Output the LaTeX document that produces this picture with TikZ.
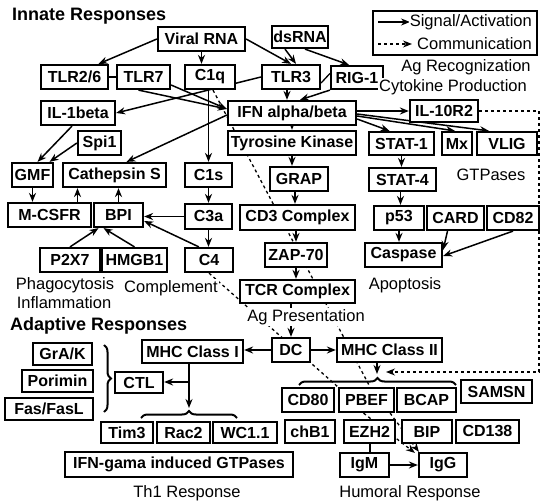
\documentclass[tikz,border=0pt]{standalone}
\usepackage{fontspec}
\setmainfont{Liberation Sans}
\usetikzlibrary{arrows.meta,backgrounds,decorations.pathreplacing,calc}
\tikzset{
  box/.style={draw, line width=2.2pt, fill=white, inner sep=0pt, font=\fontsize{16}{18}\selectfont\bfseries},
  arr/.style={line width=1.5pt, -{Stealth[length=9pt,width=7pt]}},
  dasharr/.style={line width=1.3pt, dash pattern=on 3pt off 3pt, -{Stealth[length=9pt,width=7pt]}},
  dline/.style={line width=1.3pt, dash pattern=on 3pt off 3pt},
  lbl/.style={font=\fontsize{16.5}{18}\selectfont, inner sep=1pt, fill=white},
  ttl/.style={font=\fontsize{18}{20}\selectfont\bfseries, anchor=west, inner sep=0pt},
  brc/.style={decorate, decoration={brace, amplitude=7pt}, line width=2pt},
}
\newcommand\bx[6]{\node[box,minimum width={(#4-#2)*1pt},minimum height={(#5-#3)*1pt}] (#1) at ({(#2+#4)/2},{(#3+#5)/2}) {#6};}
\begin{document}
\begin{tikzpicture}[x=1pt,y=-1pt]
\useasboundingbox (0,0) rectangle (544,503);
% titles
\node[ttl] (tin) at (12,16) {Innate Responses};
\node[ttl] (tad) at (10,326) {Adaptive Responses};
% legend
\node[draw, line width=2pt, minimum width=164pt, minimum height=44pt, inner sep=0pt] (leg) at (455,33) {};
\coordinate (lga) at (378,22); \coordinate (lgb) at (410,22);
\coordinate (lgc) at (378,44); \coordinate (lgd) at (412,44);
\node[lbl, anchor=east] (ls) at (533,22) {Signal/Activation};
\node[lbl, anchor=east] (lc) at (533,44) {Communication};
% innate boxes
\bx{viral}{158}{27}{245}{51}{Viral RNA}
\bx{dsrna}{272}{26}{328}{48}{dsRNA}
\bx{tlr26}{41}{65}{108}{89}{TLR2/6}
\bx{tlr7}{117}{65}{170}{89}{TLR7}
\bx{c1q}{185}{65}{235}{89}{C1q}
\bx{tlr3}{262}{65}{320}{89}{TLR3}
\bx{rig}{331}{66}{383}{89}{RIG-1}
\bx{il1b}{41}{101}{115}{125}{IL-1beta}
\bx{ifn}{228}{101}{356}{125}{IFN alpha/beta}
\bx{il10}{410}{100}{478}{122}{IL-10R2}
\bx{spi1}{78}{131}{121}{155}{Spi1}
\bx{tyk}{228}{131}{356}{155}{Tyrosine Kinase}
\bx{stat1}{369}{132}{434}{155}{STAT-1}
\bx{mx}{442}{132}{472}{155}{Mx}
\bx{vlig}{477}{132}{537}{155}{VLIG}
\bx{gmf}{12}{163}{53}{187}{GMF}
\bx{cats}{63}{163}{166}{187}{Cathepsin S}
\bx{c1s}{185}{163}{232}{187}{C1s}
\bx{grap}{270}{167}{328}{191}{GRAP}
\bx{stat4}{369}{168}{436}{191}{STAT-4}
\bx{mcsfr}{8}{203}{91}{227}{M-CSFR}
\bx{bpi}{94}{203}{143}{227}{BPI}
\bx{c3a}{185}{204}{232}{229}{C3a}
\bx{cd3}{240}{205}{355}{230}{CD3 Complex}
\bx{p53}{374}{206}{424}{230}{p53}
\bx{card}{427}{206}{484}{230}{CARD}
\bx{cd82}{487}{206}{539}{230}{CD82}
\bx{p2x7}{40}{248}{100}{272}{P2X7}
\bx{hmgb1}{102}{248}{167}{272}{HMGB1}
\bx{c4}{185}{248}{233}{272}{C4}
\bx{zap}{265}{243}{327}{267}{ZAP-70}
\bx{casp}{365}{243}{442}{267}{Caspase}
\bx{tcr}{240}{280}{355}{303}{TCR Complex}
% adaptive boxes
\bx{mhc1}{142}{340}{243}{363}{MHC Class I}
\bx{dc}{272}{338}{310}{362}{DC}
\bx{mhc2}{337}{338}{442}{362}{MHC Class II}
\bx{grak}{33}{343}{92}{365}{GrA/K}
\bx{porimin}{22}{370}{93}{392}{Porimin}
\bx{fas}{5}{398}{93}{420}{Fas/FasL}
\bx{ctl}{115}{372}{163}{393}{CTL}
\bx{tim3}{101}{422}{153}{443}{Tim3}
\bx{rac2}{157}{422}{210}{443}{Rac2}
\bx{wc11}{213}{422}{277}{443}{WC1.1}
\bx{ifng}{65}{452}{293}{477}{IFN-gama induced GTPases}
\bx{cd80}{282}{388}{334}{412}{CD80}
\bx{pbef}{339}{388}{394}{412}{PBEF}
\bx{bcap}{397}{388}{456}{412}{BCAP}
\bx{samsn}{461}{380}{532}{403}{SAMSN}
\bx{chb1}{285}{420}{335}{443}{chB1}
\bx{ezh2}{344}{420}{395}{443}{EZH2}
\bx{bip}{402}{420}{452}{443}{BIP}
\bx{cd138}{456}{420}{519}{443}{CD138}
\bx{igm}{340}{453}{389}{477}{IgM}
\bx{igg}{419}{453}{467}{477}{IgG}
% labels
\node[lbl] (agr) at (466,67) {Ag Recognization};
\node[lbl] (cyt) at (453,87) {Cytokine Production};
\node[lbl] (gtp) at (491,175) {GTPases};
\node[lbl] (pha) at (65,285) {Phagocytosis};
\node[lbl] (inf) at (64,303) {Inflammation};
\node[lbl] (cmp) at (171,288) {Complement};
\node[lbl] (apo) at (405,285) {Apoptosis};
\node[lbl] (agp) at (306,317) {Ag Presentation};
\node[lbl] (th1) at (187,493) {Th1 Response};
\node[lbl] (hum) at (410,493) {Humoral Response};
% brace coordinates
\coordinate (bla) at (104,345); \coordinate (blb) at (104,412);
\coordinate (b1a) at (141,418); \coordinate (b1b) at (237,418);
\coordinate (b1tip) at (189,408);
\coordinate (ctlj) at (189,382);
\coordinate (b2a) at (299,385); \coordinate (b2b) at (456,385);
\coordinate (b2tip) at (377,374);
\coordinate (dr1) at (539,372); \coordinate (dr2) at (386,372);
\draw[brc] (bla) -- (blb);
\draw[brc] (b1a) -- (b1b);
\draw[brc] (b2a) -- (b2b);
\begin{scope}[on background layer]
\fill[white] (0,0) rectangle (544,503);
\draw[arr] (lga) -- (lgb);
\draw[dasharr] (lgc) -- (lgd);
% long dashed communication lines
\draw[dline] ([xshift=3pt]c1q.south) -- ([xshift=3.5pt]pbef.north);
\draw[dline] (c4.south) -- (pbef.north west);
% innate
\draw[arr] (viral.west) -- ([xshift=24pt]tlr26.north);
\draw[arr] (viral.south) -- (viral.south |- c1q.north);
\draw[arr] (viral.east) -- (tlr3.north);
\draw[arr] ([xshift=-15pt]dsrna.south) -- ([xshift=5pt]tlr3.north);
\draw[arr] ([xshift=5pt]dsrna.south) -- ([xshift=-8pt]rig.north);
\draw[line width=1.3pt] ([yshift=-6pt]tlr3.east) -- ([yshift=4pt]rig.west);
\draw[line width=1.5pt] (tlr26.east) -- (tlr7.west);
\draw[arr] ([xshift=-5pt]tlr7.south) -- ([yshift=4pt]ifn.west);
\draw[arr] ([yshift=-8pt]tlr7.east) -- ([yshift=4pt]ifn.west);
\draw[arr] (tlr3.west) -- (il1b.east);
\draw[arr] ([yshift=-2pt]ifn.west) -- ([xshift=12pt]cats.north);
\draw[arr] ([xshift=-6pt]il1b.south) -- ([xshift=5pt]gmf.north);
\draw[arr] (spi1.west) -- ([xshift=17pt]gmf.north);
\draw[arr] (gmf.south) -- (gmf.south |- mcsfr.north);
\draw[arr] ([xshift=28pt]mcsfr.north) -- ([xshift=28pt]mcsfr.north |- cats.south);
\draw[arr] (bpi.north) -- (bpi.north |- cats.south);
\draw[arr] (p2x7.north) -- ([xshift=-20pt]bpi.south);
\draw[arr] (hmgb1.north) -- ([xshift=-15pt]bpi.south);
\draw[arr] (c1s.north |- c1q.south) -- (c1s.north);
\draw[arr] (c1s.south) -- (c1s.south |- c3a.north);
\draw[arr] (c3a.south) -- (c3a.south |- c4.north);
\draw[arr] (c3a.west) -- (c3a.west -| bpi.east);
\draw[arr] ([xshift=15pt]c4.north west) -- ([yshift=-6pt]bpi.east);
\draw[arr] ([xshift=-4pt]tlr3.south) -- ([xshift=-4pt]tlr3.south |- ifn.north);
\draw[arr] (rig.south west) -- ([xshift=8pt]ifn.north);
\draw[arr] (ifn.south) -- (tyk.north);
\draw[arr] (tyk.south) -- (tyk.south |- grap.north);
\draw[arr] ([xshift=-4pt]grap.south) -- ([xshift=-4pt]grap.south |- cd3.north);
\draw[arr] (zap.north |- cd3.south) -- (zap.north);
\draw[arr] (zap.south) -- (zap.south |- tcr.north);
\draw[arr] (dc.north |- tcr.south) -- (dc.north);
\draw[arr] (ifn.east |- il10.west) -- (il10.west);
\draw[arr] ([yshift=-6pt]ifn.east) -- ([xshift=-12pt]stat1.north);
\draw[arr] ([yshift=-3pt]ifn.east) -- ([xshift=-2pt]mx.north);
\draw[arr] ([yshift=-1pt]ifn.east) -- ([xshift=-18pt]vlig.north);
\draw[arr] (stat1.south) -- (stat1.south |- stat4.north);
\draw[arr] ([xshift=-2pt]stat4.south) -- ([xshift=-2pt]stat4.south |- p53.north);
\draw[arr] (p53.south) -- (p53.south |- casp.north);
\draw[arr] ([xshift=-8pt]card.south) -- ([yshift=5pt]casp.east);
\draw[arr] (cd82.south) -- ([yshift=-1pt]casp.east);
\draw[dasharr] (il10.east) -| (dr1) -- (dr2);
% adaptive
\draw[arr] (dc.west) -- (dc.west -| mhc1.east);
\draw[arr] (dc.east) -- (dc.east -| mhc2.west);
\draw[arr] (b1tip |- mhc1.south) -- (b1tip);
\draw[arr] (ctlj) -- (ctlj -| ctl.east);
\draw[arr] (b2tip |- mhc2.south) -- (b2tip);
\draw[line width=2pt] (ezh2.south) -- (ezh2.south |- igm.north);
\draw[arr] (igm.east) -- (igg.west);
\draw[dasharr] ([xshift=-3pt]pbef.south) -- ([xshift=-3pt,yshift=-1pt]igg.north west);
\draw[dasharr] ([xshift=-5pt]pbef.south east) -- ([xshift=1pt]igg.north west);
\end{scope}
\end{tikzpicture}
\end{document}
